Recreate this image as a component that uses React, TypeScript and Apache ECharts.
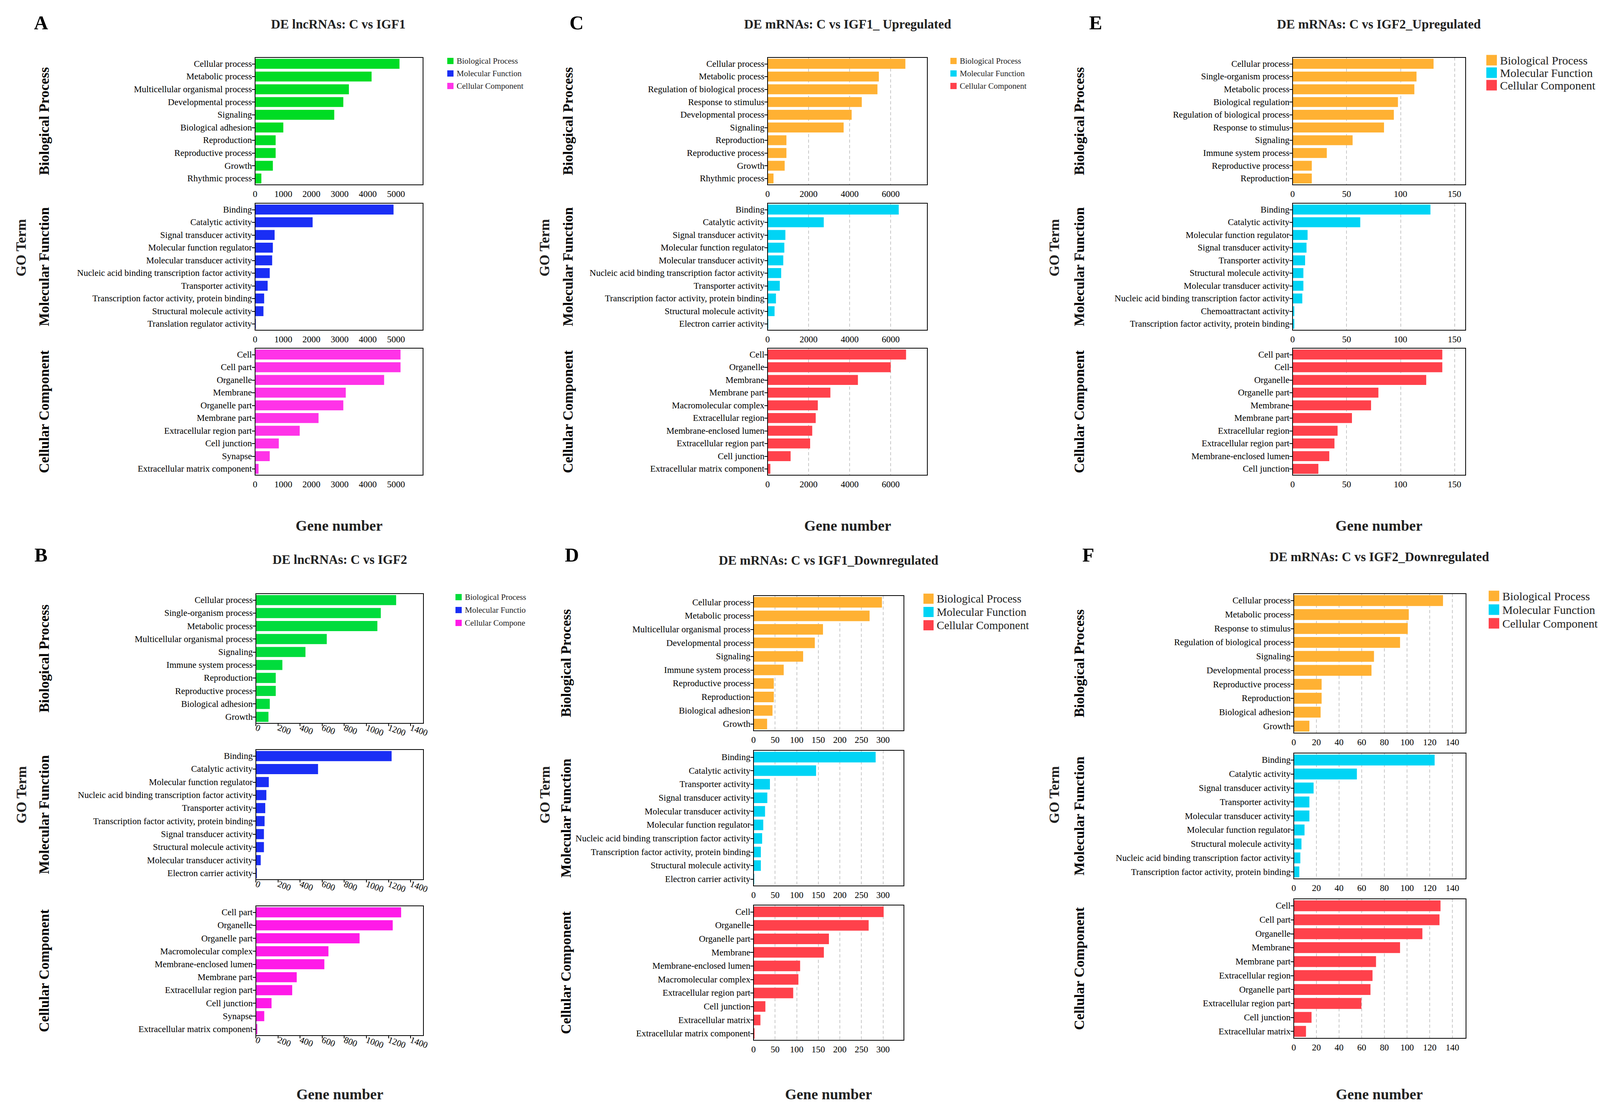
import React, { useEffect, useRef } from "react";
import * as echarts from "echarts";

// ---------- DATA ----------
const A_BP_cats = ["Cellular process","Metabolic process","Multicellular organismal process","Developmental process","Signaling","Biological adhesion","Reproduction","Reproductive process","Growth","Rhythmic process"];
const A_BP_vals = [5124,4134,3329,3131,2809,1002,730,730,631,223];
const A_MF_cats = ["Binding","Catalytic activity","Signal transducer activity","Molecular function regulator","Molecular transducer activity","Nucleic acid binding transcription factor activity","Transporter activity","Transcription factor activity, protein binding","Structural molecule activity","Translation regulator activity"];
const A_MF_vals = [4913,2042,693,631,606,520,446,322,297,25];
const A_CC_cats = ["Cell","Cell part","Organelle","Membrane","Organelle part","Membrane part","Extracellular region part","Cell junction","Synapse","Extracellular matrix component"];
const A_CC_vals = [5161,5161,4579,3218,3131,2252,1584,842,520,124];

const B_BP_cats = ["Cellular process","Single-organism process","Metabolic process","Multicellular organismal process","Signaling","Immune system process","Reproduction","Reproductive process","Biological adhesion","Growth"];
const B_BP_vals = [1270,1131,1100,642,449,240,180,180,126,114];
const B_MF_cats = ["Binding","Catalytic activity","Molecular function regulator","Nucleic acid binding transcription factor activity","Transporter activity","Transcription factor activity, protein binding","Signal transducer activity","Structural molecule activity","Molecular transducer activity","Electron carrier activity"];
const B_MF_vals = [1229,563,117,95,85,79,73,73,44,9];
const B_CC_cats = ["Cell part","Organelle","Organelle part","Macromolecular complex","Membrane-enclosed lumen","Membrane part","Extracellular region part","Cell junction","Synapse","Extracellular matrix component"];
const B_CC_vals = [1315,1239,939,657,620,370,329,142,76,13];

const C_BP_cats = ["Cellular process","Metabolic process","Regulation of biological process","Response to stimulus","Developmental process","Signaling","Reproduction","Reproductive process","Growth","Rhythmic process"];
const C_BP_vals = [6714,5422,5354,4590,4097,3706,918,918,833,289];
const C_MF_cats = ["Binding","Catalytic activity","Signal transducer activity","Molecular function regulator","Molecular transducer activity","Nucleic acid binding transcription factor activity","Transporter activity","Transcription factor activity, protein binding","Structural molecule activity","Electron carrier activity"];
const C_MF_vals = [6391,2737,867,816,765,663,595,408,340,34];
const C_CC_cats = ["Cell","Organelle","Membrane","Membrane part","Macromolecular complex","Extracellular region","Membrane-enclosed lumen","Extracellular region part","Cell junction","Extracellular matrix component"];
const C_CC_vals = [6748,6000,4402,3060,2448,2346,2176,2074,1122,136];

const D_BP_cats = ["Cellular process","Metabolic process","Multicellular organismal process","Developmental process","Signaling","Immune system process","Reproductive process","Reproduction","Biological adhesion","Growth"];
const D_BP_vals = [297.6,269,161,142,115,70,47,47,44,31.5];
const D_MF_cats = ["Binding","Catalytic activity","Transporter activity","Signal transducer activity","Molecular transducer activity","Molecular function regulator","Nucleic acid binding transcription factor activity","Transcription factor activity, protein binding","Structural molecule activity","Electron carrier activity"];
const D_MF_vals = [283,145,38,32,26.7,22.6,20,17,17,1.6];
const D_CC_cats = ["Cell","Organelle","Organelle part","Membrane","Membrane-enclosed lumen","Macromolecular complex","Extracellular region part","Cell junction","Extracellular matrix","Extracellular matrix component"];
const D_CC_vals = [301.6,266.8,174.7,163,108,104,92,27.5,16,2.4];

const E_BP_cats = ["Cellular process","Single-organism process","Metabolic process","Biological regulation","Regulation of biological process","Response to stimulus","Signaling","Immune system process","Reproductive process","Reproduction"];
const E_BP_vals = [130.6,114.8,112.8,97.6,93.8,84.7,55.6,31.7,17.8,17.8];
const E_MF_cats = ["Binding","Catalytic activity","Molecular function regulator","Signal transducer activity","Transporter activity","Structural molecule activity","Molecular transducer activity","Nucleic acid binding transcription factor activity","Chemoattractant activity","Transcription factor activity, protein binding"];
const E_MF_vals = [127.7,62.7,13.9,12.9,11.6,10,10,9,1.6,1.6];
const E_CC_cats = ["Cell part","Cell","Organelle","Organelle part","Membrane","Membrane part","Extracellular region","Extracellular region part","Membrane-enclosed lumen","Cell junction"];
const E_CC_vals = [138.7,138.7,123.8,79.5,72.7,55,41.7,38.8,34,23.9];

const F_BP_cats = ["Cellular process","Metabolic process","Response to stimulus","Regulation of biological process","Signaling","Developmental process","Reproductive process","Reproduction","Biological adhesion","Growth"];
const F_BP_vals = [131.7,101.5,100.6,93.8,70.8,68.6,24.6,24.6,23.7,13.8];
const F_MF_cats = ["Binding","Catalytic activity","Signal transducer activity","Transporter activity","Molecular transducer activity","Molecular function regulator","Structural molecule activity","Nucleic acid binding transcription factor activity","Transcription factor activity, protein binding"];
const F_MF_vals = [124.3,55.7,17.5,13.8,13.8,9.5,6.8,5.8,4.9];
const F_CC_cats = ["Cell","Cell part","Organelle","Membrane","Membrane part","Extracellular region","Organelle part","Extracellular region part","Cell junction","Extracellular matrix"];
const F_CC_vals = [129.5,128.6,113.5,93.8,72.6,69.5,67.7,59.7,15.7,10.8];

const titles = ["DE lncRNAs: C vs IGF1","DE lncRNAs: C vs IGF2","DE mRNAs: C vs IGF1_ Upregulated","DE mRNAs: C vs IGF1_Downregulated","DE mRNAs: C vs IGF2_Upregulated","DE mRNAs: C vs IGF2_Downregulated"];
const letters = ["A","B","C","D","E","F"];
const legendFull = ["Biological Process","Molecular Function","Cellular Component"];
const legendB = ["Biological Process","Molecular Functio","Cellular Compone"];
const sideNames = ["Biological Process","Molecular Function","Cellular Component"];

const FONT = "Liberation Serif";

type Panel = {
  cats: string[][]; vals: number[][]; colors: string[]; max: number; interval: number;
  left: number; right: number; tops: number[]; bottoms: number[]; grid: boolean; rotate: number;
  title: string; titleX: number; titleY: number; letter: string; letterX: number; letterY: number;
  legend: string[]; legX: number; legY: number; legGap: number; legSq: number; legFont: number;
  sideX: number; goX: number; goY: number; geneX: number; geneY: number;
};

const lncColors = ["#00DC24", "#1A2EF5", "#FF33E8"];
const mColors = ["#FFB133", "#00D4F5", "#FF414B"];
const topRow = { tops: [147, 520, 891], bottoms: [473, 845, 1216] };

const panels: Panel[] = [
  { cats: [A_BP_cats, A_MF_cats, A_CC_cats], vals: [A_BP_vals, A_MF_vals, A_CC_vals], colors: lncColors, max: 5960, interval: 1000,
    left: 653, right: 1083, ...topRow, grid: false, rotate: 0,
    title: titles[0], titleX: 866, titleY: 62, letter: letters[0], letterX: 105, letterY: 58,
    legend: legendFull, legX: 1145, legY: 156, legGap: 32, legSq: 16, legFont: 21, sideX: 113, goX: 54, goY: 634, geneX: 868, geneY: 1345 },
  { cats: [B_BP_cats, B_MF_cats, B_CC_cats], vals: [B_BP_vals, B_MF_vals, B_CC_vals], colors: ["#00DC3C", "#1A2EF5", "#FF1AE8"], max: 1517, interval: 200,
    left: 655, right: 1084, tops: [1519, 1918, 2318], bottoms: [1851, 2251, 2650], grid: false, rotate: -20,
    title: titles[1], titleX: 870, titleY: 1432, letter: letters[1], letterX: 105, letterY: 1420,
    legend: legendB, legX: 1166, legY: 1528, legGap: 33, legSq: 16, legFont: 21, sideX: 113, goX: 55, goY: 2034, geneX: 870, geneY: 2800 },
  { cats: [C_BP_cats, C_MF_cats, C_CC_cats], vals: [C_BP_vals, C_MF_vals, C_CC_vals], colors: mColors, max: 7785, interval: 2000,
    left: 1965, right: 2374, ...topRow, grid: true, rotate: 0,
    title: titles[2], titleX: 2170, titleY: 62, letter: letters[2], letterX: 1476, letterY: 58,
    legend: legendFull, legX: 2433, legY: 156, legGap: 32, legSq: 16, legFont: 21, sideX: 1454, goX: 1394, goY: 634, geneX: 2170, geneY: 1345 },
  { cats: [D_BP_cats, D_MF_cats, D_CC_cats], vals: [D_BP_vals, D_MF_vals, D_CC_vals], colors: mColors, max: 348.5, interval: 50,
    left: 1929, right: 2314, tops: [1524, 1920, 2316], bottoms: [1870, 2267, 2662], grid: true, rotate: 0,
    title: titles[3], titleX: 2121, titleY: 1434, letter: letters[3], letterX: 1464, letterY: 1420,
    legend: legendFull, legX: 2364, legY: 1532, legGap: 34, legSq: 26, legFont: 29, sideX: 1449, goX: 1395, goY: 2034, geneX: 2121, geneY: 2800 },
  { cats: [E_BP_cats, E_MF_cats, E_CC_cats], vals: [E_BP_vals, E_MF_vals, E_CC_vals], colors: mColors, max: 160.3, interval: 50,
    left: 3309, right: 3752, ...topRow, grid: true, rotate: 0,
    title: titles[4], titleX: 3530, titleY: 62, letter: letters[4], letterX: 2805, letterY: 58,
    legend: legendFull, legX: 3805, legY: 154, legGap: 32, legSq: 27, legFont: 30, sideX: 2763, goX: 2699, goY: 634, geneX: 3530, geneY: 1345 },
  { cats: [F_BP_cats, F_MF_cats, F_CC_cats], vals: [F_BP_vals, F_MF_vals, F_CC_vals], colors: mColors, max: 152, interval: 20,
    left: 3312, right: 3753, tops: [1519, 1927, 2300], bottoms: [1876, 2249, 2657], grid: true, rotate: 0,
    title: titles[5], titleX: 3531, titleY: 1425, letter: letters[5], letterX: 2786, letterY: 1420,
    legend: legendFull, legX: 3811, legY: 1525, legGap: 35, legSq: 27, legFont: 30, sideX: 2763, goX: 2699, goY: 2034, geneX: 3531, geneY: 2800 },
];

const W = 4149, H = 2866;

function buildOption() {
  const grids: any[] = [], xAxes: any[] = [], yAxes: any[] = [], series: any[] = [], graphic: any[] = [];
  panels.forEach((p) => {
    for (let k = 0; k < 3; k++) {
      const idx = grids.length;
      grids.push({ left: p.left, width: p.right - p.left, top: p.tops[k], height: p.bottoms[k] - p.tops[k],
        show: false, containLabel: false });
      xAxes.push({ type: "value", gridIndex: idx, min: 0, max: p.max, interval: p.interval,
        axisLine: { show: true, lineStyle: { color: "#000", width: 2 } },
        axisTick: { show: p.rotate !== 0, length: 7, lineStyle: { color: "#000", width: 2 } },
        axisLabel: { color: "#000", fontFamily: FONT, fontSize: 23, margin: p.rotate ? 10 : 12, rotate: p.rotate,
          showMaxLabel: false, formatter: (v: number) => String(v) },
        splitLine: { show: p.grid, showMinLine: false, showMaxLine: false, lineStyle: { type: [8, 6], color: "#C8C8C8", width: 2 } } });
      yAxes.push({ type: "category", gridIndex: idx, data: p.cats[k], inverse: true,
        axisLine: { show: true, lineStyle: { color: "#000", width: 2 } },
        axisTick: { show: true, alignWithLabel: true, length: 8, lineStyle: { color: "#000", width: 2 } },
        axisLabel: { color: "#000", fontFamily: FONT, fontSize: 23, margin: 8, interval: 0 } });
      series.push({ type: "bar", xAxisIndex: idx, yAxisIndex: idx, data: p.vals[k], barCategoryGap: "22%",
        itemStyle: { color: p.colors[k] } });
      graphic.push({ type: "rect", z: 100, shape: { x: p.left, y: p.tops[k], width: p.right - p.left, height: p.bottoms[k] - p.tops[k] },
        style: { fill: "none", stroke: "#000", lineWidth: 2 } });
      const cy = (p.tops[k] + p.bottoms[k]) / 2;
      graphic.push({ type: "text", x: p.sideX, y: cy, rotation: Math.PI / 2,
        style: { text: sideNames[k], font: `bold 36px ${FONT}`, fill: "#000", align: "center", verticalAlign: "middle" } });
      graphic.push({ type: "rect", shape: { x: p.legX, y: p.legY + k * p.legGap - p.legSq / 2, width: p.legSq, height: p.legSq },
        style: { fill: p.colors[k] } });
      graphic.push({ type: "text", x: p.legX + p.legSq + 8, y: p.legY + k * p.legGap,
        style: { text: p.legend[k], font: `${p.legFont}px ${FONT}`, fill: "#222", align: "left", verticalAlign: "middle" } });
    }
    graphic.push({ type: "text", x: p.titleX, y: p.titleY,
      style: { text: p.title, font: `bold 33px ${FONT}`, fill: "#222", align: "center", verticalAlign: "middle" } });
    graphic.push({ type: "text", x: p.letterX, y: p.letterY,
      style: { text: p.letter, font: `bold 50px ${FONT}`, fill: "#000", align: "center", verticalAlign: "middle" } });
    graphic.push({ type: "text", x: p.goX, y: p.goY, rotation: Math.PI / 2,
      style: { text: "GO Term", font: `bold 36px ${FONT}`, fill: "#222", align: "center", verticalAlign: "middle" } });
    graphic.push({ type: "text", x: p.geneX, y: p.geneY,
      style: { text: "Gene number", font: `bold 38px ${FONT}`, fill: "#222", align: "center", verticalAlign: "middle" } });
  });
  return { animation: false, backgroundColor: "#fff", grid: grids, xAxis: xAxes, yAxis: yAxes, series, graphic };
}

export default function App() {
  const ref = useRef<HTMLDivElement>(null);
  useEffect(() => {
    if (!ref.current) return;
    const chart = echarts.init(ref.current, undefined, { renderer: "svg" });
    chart.setOption(buildOption() as any);
    return () => chart.dispose();
  }, []);
  return <div ref={ref} style={{ position: "absolute", left: 0, top: 0, width: W, height: H }} />;
}
